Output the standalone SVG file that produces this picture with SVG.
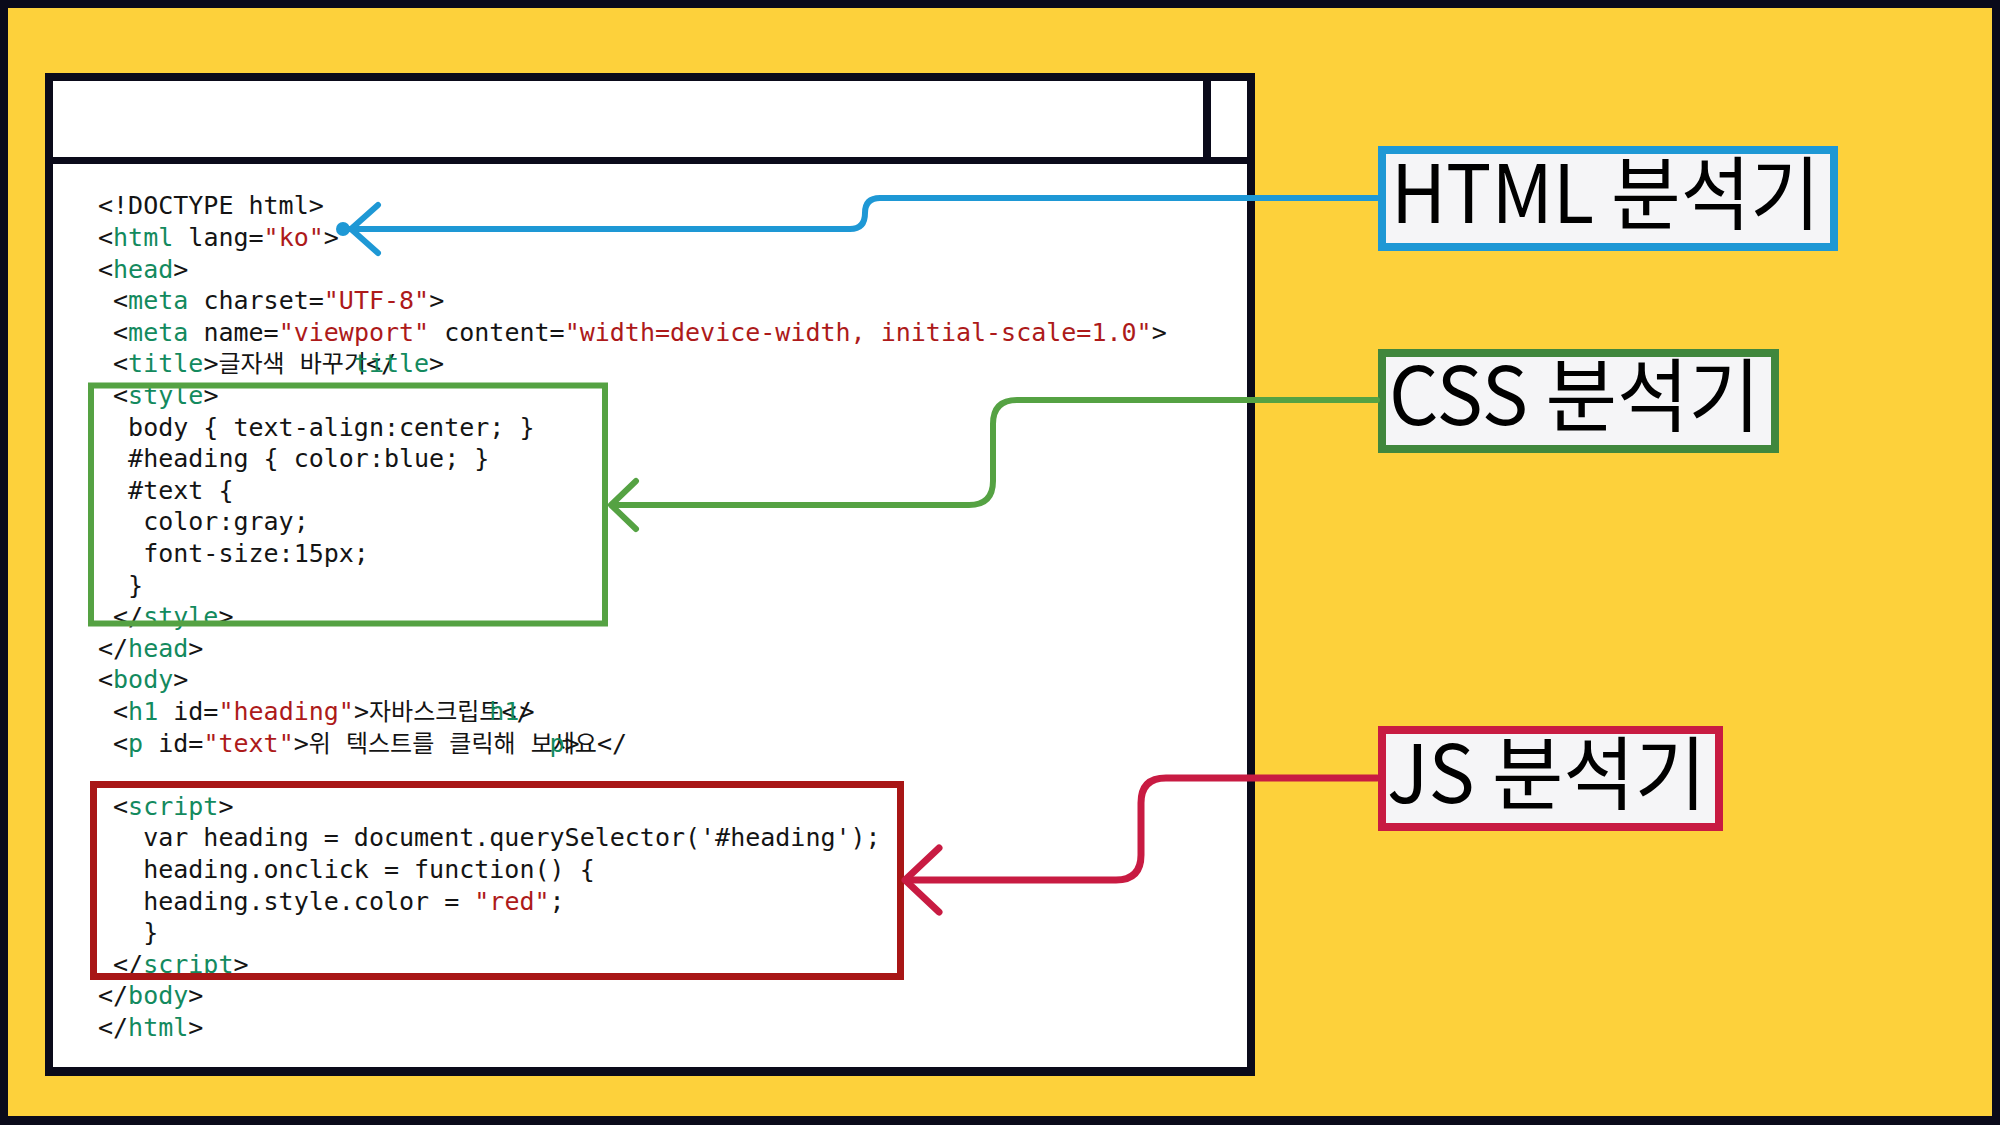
<svg xmlns="http://www.w3.org/2000/svg" width="2000" height="1125" viewBox="0 0 2000 1125">
<style>
.c{font-family:"DejaVu Sans Mono","Noto Sans CJK KR",monospace;font-size:25px;fill:#141414}
.g{fill:#138a5e}
.s{fill:#ad1a1a}
.k{font-family:"Noto Sans CJK KR",sans-serif;font-size:24px}
.ks{font-family:"DejaVu Sans Mono",monospace;font-size:25px}
.lbl{font-family:"Noto Sans CJK KR","Noto Sans",sans-serif;font-size:80px;fill:#000}
.conn{fill:none;stroke-linecap:round;stroke-linejoin:round}
</style>
<g id="background">
<rect x="0" y="0" width="2000" height="1125" fill="#0a0a1a"/>
<rect x="8" y="8" width="1984" height="1108" fill="#fdd13b"/>
</g>
<g id="browser-window">
<rect x="45" y="73" width="1210" height="1003" fill="#0a0a1a"/>
<rect x="53" y="81" width="1150" height="76" fill="#ffffff"/>
<rect x="1211" y="81" width="36" height="76" fill="#ffffff"/>
<rect x="53" y="164" width="1194" height="903" fill="#ffffff"/>
</g>
<g id="code" class="c">
<text x="98" y="214.4">&lt;!DOCTYPE html&gt;</text>
<text x="98" y="246">&lt;<tspan class="g">html</tspan> lang=<tspan class="s">"ko"</tspan>&gt;</text>
<text x="98" y="277.6">&lt;<tspan class="g">head</tspan>&gt;</text>
<text x="113.05" y="309.2">&lt;<tspan class="g">meta</tspan> charset=<tspan class="s">"UTF-8"</tspan>&gt;</text>
<text x="113.05" y="340.8">&lt;<tspan class="g">meta</tspan> name=<tspan class="s">"viewport"</tspan> content=<tspan class="s">"width=device-width, initial-scale=1.0"</tspan>&gt;</text>
<text x="113.05" y="372.4">&lt;<tspan class="g">title</tspan>&gt;<tspan class="k">글자색</tspan><tspan class="ks"> </tspan><tspan class="k">바꾸기</tspan>&lt;/</text>
<text x="353.85" y="372.4" class="g">title</text>
<text x="429.1" y="372.4">&gt;</text>
<text x="113.05" y="404">&lt;<tspan class="g">style</tspan>&gt;</text>
<text x="128.1" y="435.6">body { text-align:center; }</text>
<text x="128.1" y="467.2">#heading { color:blue; }</text>
<text x="128.1" y="498.8">#text {</text>
<text x="143.15" y="530.4">color:gray;</text>
<text x="143.15" y="562">font-size:15px;</text>
<text x="128.1" y="593.6">}</text>
<text x="113.05" y="625.2">&lt;/<tspan class="g">style</tspan>&gt;</text>
<text x="98" y="656.8">&lt;/<tspan class="g">head</tspan>&gt;</text>
<text x="98" y="688.4">&lt;<tspan class="g">body</tspan>&gt;</text>
<text x="113.05" y="720">&lt;<tspan class="g">h1</tspan> id=<tspan class="s">"heading"</tspan>&gt;<tspan class="k">자바스크립트</tspan>&lt;/</text>
<text x="489.3" y="720" class="g">h1</text>
<text x="519.4" y="720">&gt;</text>
<text x="113.05" y="751.6">&lt;<tspan class="g">p</tspan> id=<tspan class="s">"text"</tspan>&gt;<tspan class="k">위</tspan><tspan class="ks"> </tspan><tspan class="k">텍스트를</tspan><tspan class="ks"> </tspan><tspan class="k">클릭해</tspan><tspan class="ks"> </tspan><tspan class="k">보세요</tspan>&lt;/</text>
<text x="549.5" y="751.6" class="g">p</text>
<text x="564.55" y="751.6">&gt;</text>
<text x="113.05" y="814.8">&lt;<tspan class="g">script</tspan>&gt;</text>
<text x="143.15" y="846.4">var heading = document.querySelector('#heading');</text>
<text x="143.15" y="878">heading.onclick = function() {</text>
<text x="143.15" y="909.6">heading.style.color = <tspan class="s">"red"</tspan>;</text>
<text x="143.15" y="941.2">}</text>
<text x="113.05" y="972.8">&lt;/<tspan class="g">script</tspan>&gt;</text>
<text x="98" y="1004.4">&lt;/<tspan class="g">body</tspan>&gt;</text>
<text x="98" y="1036">&lt;/<tspan class="g">html</tspan>&gt;</text>
</g>
<g id="css-block">
<rect x="91" y="385.5" width="514" height="238" fill="none" stroke="#55a243" stroke-width="6"/>
</g>
<g id="js-block">
<rect x="93.5" y="784.5" width="807" height="192" fill="none" stroke="#a81616" stroke-width="7"/>
</g>
<g id="html-parser">
<rect x="1382" y="150" width="452" height="97" fill="#f5f5f7" stroke="#1e98d5" stroke-width="8"/>
<text class="lbl" x="1391" y="223" textLength="429" lengthAdjust="spacingAndGlyphs">HTML 분석기</text>
</g>
<g id="css-parser">
<rect x="1382" y="353" width="393" height="96" fill="#f5f5f7" stroke="#40873d" stroke-width="8"/>
<text class="lbl" x="1389" y="425" textLength="371" lengthAdjust="spacingAndGlyphs">CSS 분석기</text>
</g>
<g id="js-parser">
<rect x="1382" y="730" width="337" height="97" fill="#f5f5f7" stroke="#c81b42" stroke-width="8"/>
<text class="lbl" x="1387" y="803" textLength="319" lengthAdjust="spacingAndGlyphs">JS 분석기</text>
</g>
<g id="connectors" class="conn">
<path d="M1377,198 H880 Q865,198 865,213 Q865,229 850,229 H343" stroke="#1e98d5" stroke-width="6"/>
<circle cx="343" cy="229" r="7" fill="#1e98d5"/>
<path d="M378,205 L351,229 L378,253" stroke="#1e98d5" stroke-width="6"/>
<path d="M1377,400 H1017 Q993,400 993,424 V481 Q993,505 969,505 H612" stroke="#55a243" stroke-width="6"/>
<path d="M636,481 L611,505 L636,529" stroke="#55a243" stroke-width="6"/>
<path d="M1377,778 H1166 Q1141,778 1141,803 V855 Q1141,880 1116,880 H906" stroke="#c81b42" stroke-width="7"/>
<path d="M939,848 L905,880 L939,912" stroke="#c81b42" stroke-width="7"/>
</g>
</svg>
